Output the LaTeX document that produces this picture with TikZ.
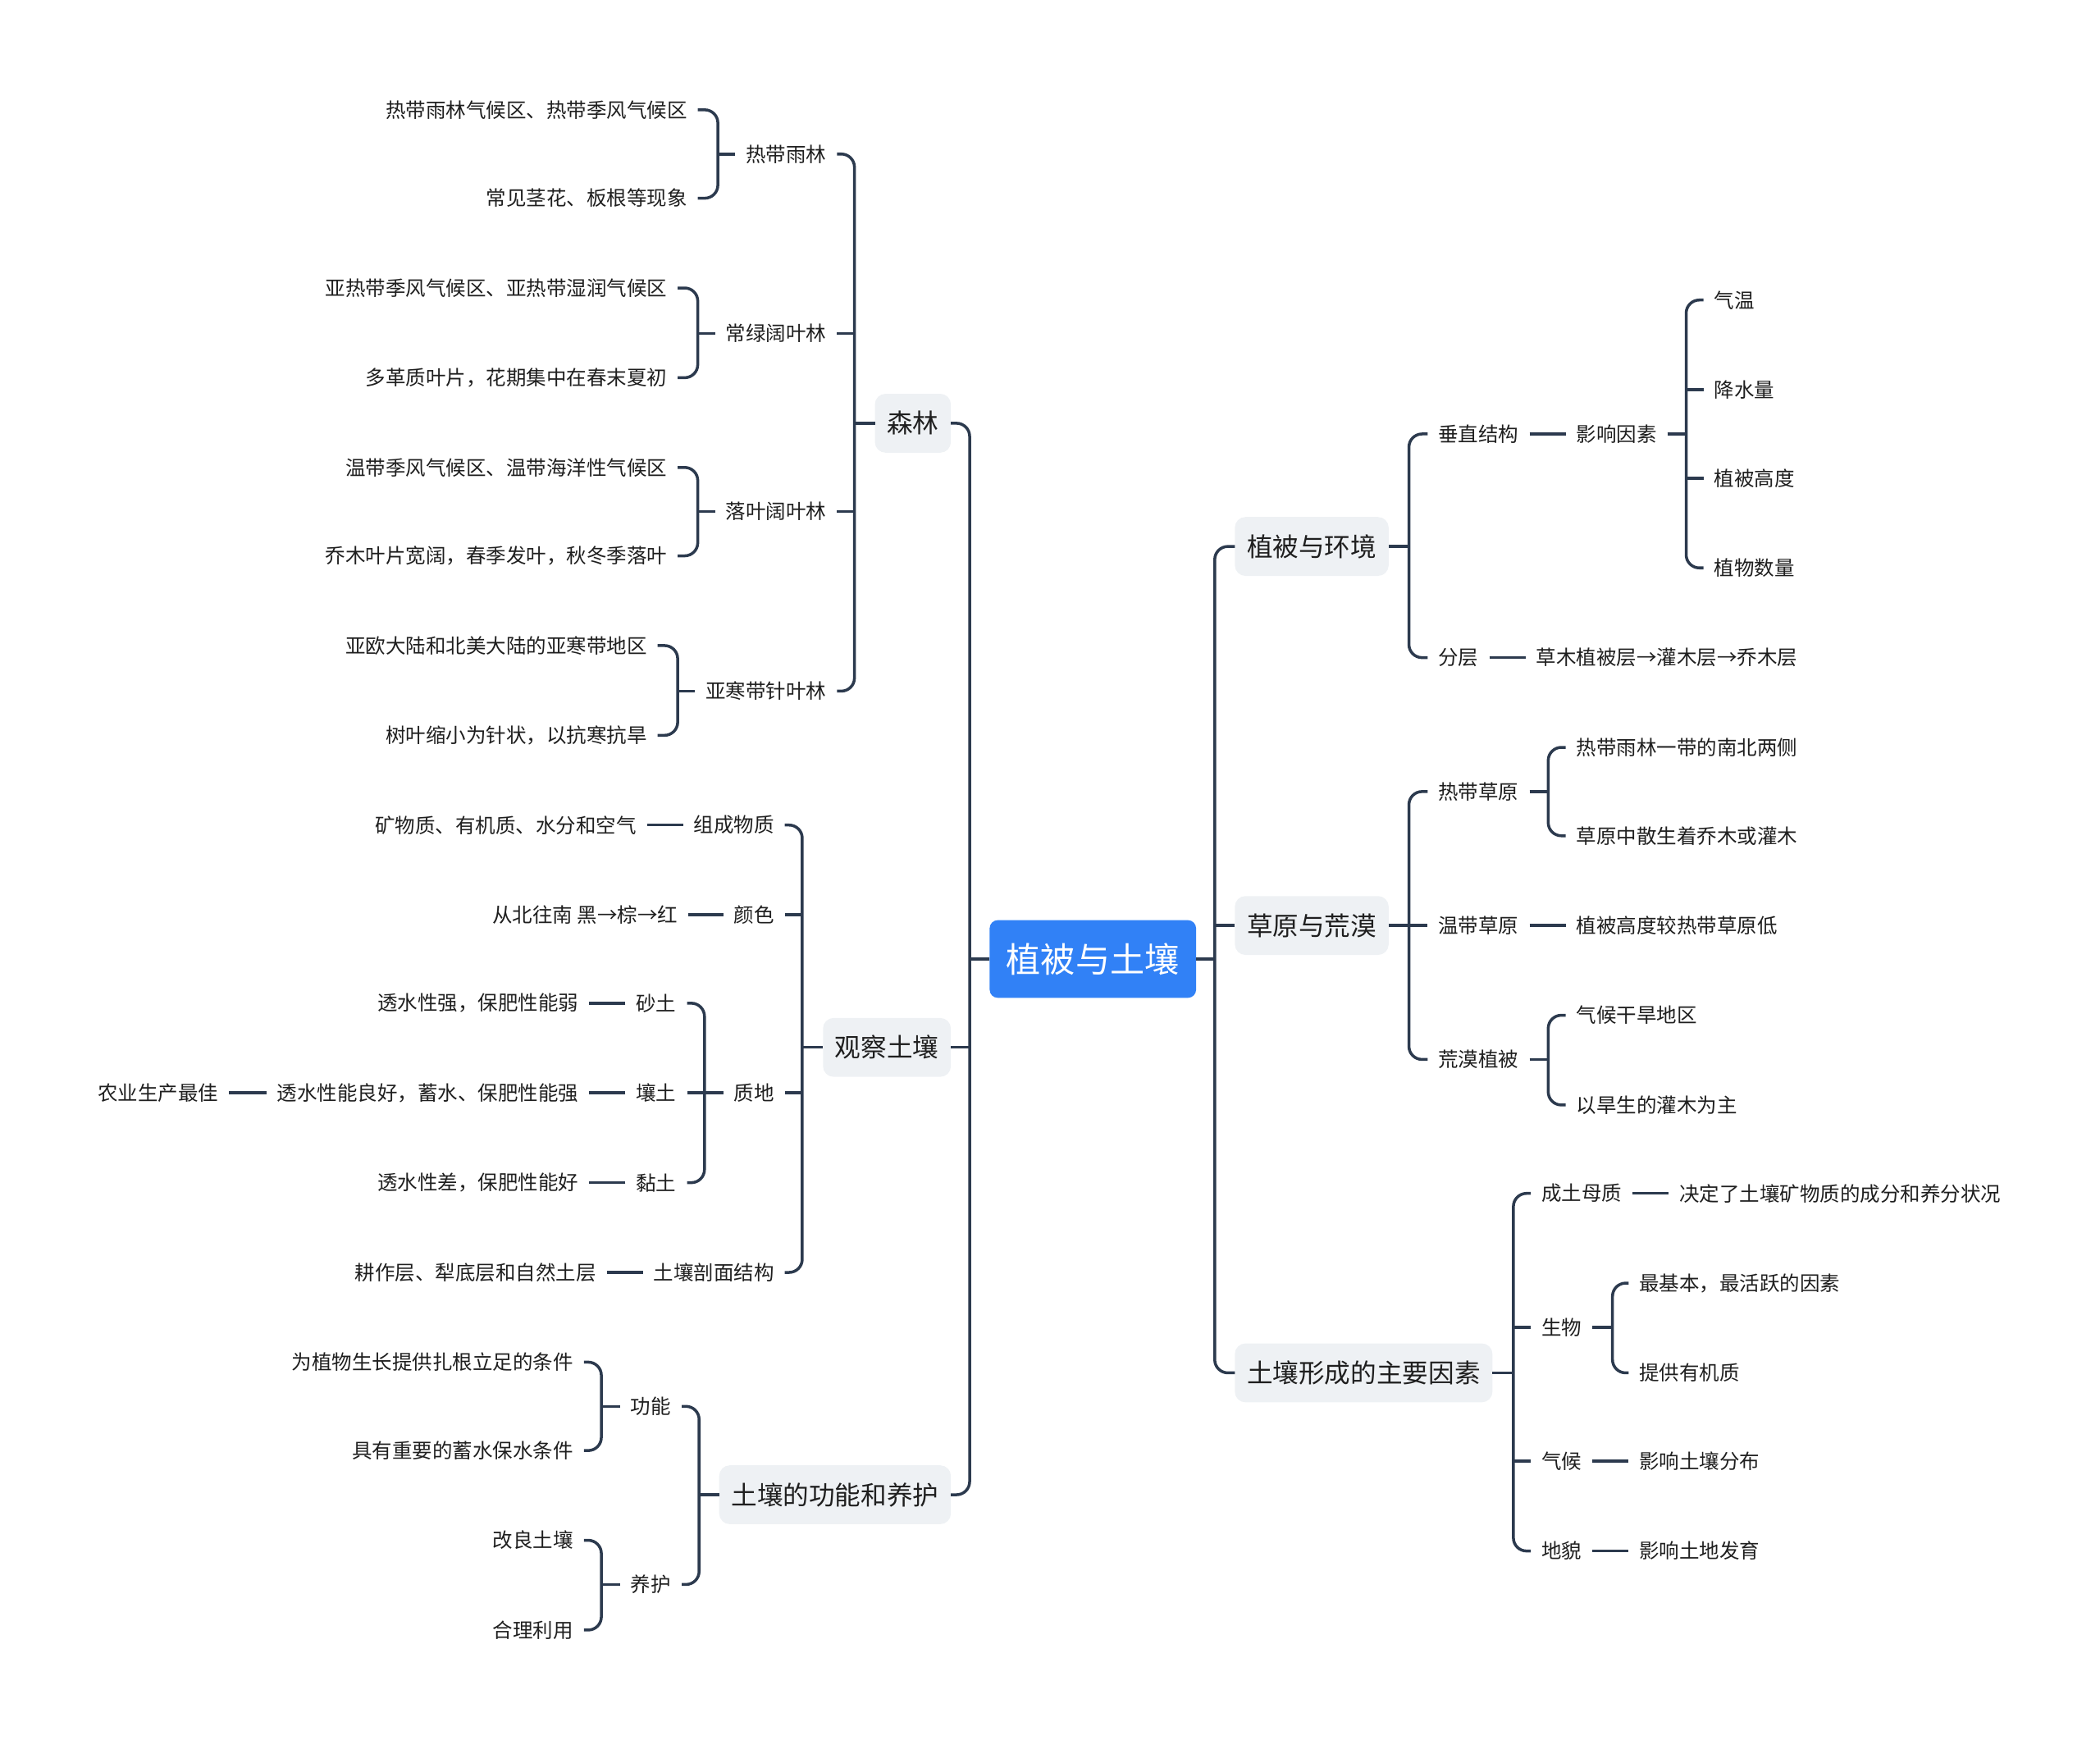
\documentclass[tikz,border=0pt]{standalone}
\usepackage{fontspec}
\setmainfont{Noto Sans CJK SC}
\usetikzlibrary{calc}
\definecolor{linec}{HTML}{2C3A4E}
\definecolor{rootc}{HTML}{3181F6}
\definecolor{boxc}{HTML}{EEF1F4}
\definecolor{txtc}{HTML}{1F1F1F}
\begin{document}
\begin{tikzpicture}[x=0.016327cm,y=-0.016327cm,
 leaf/.style={font=\fontsize{6.97pt}{8pt}\selectfont, text=txtc, inner xsep=0.1306cm, inner ysep=0.05cm, outer sep=0pt},
 lvl/.style={fill=boxc, rounded corners=0.13cm, font=\fontsize{9pt}{11pt}\selectfont, text=txtc, inner xsep=0.147cm, minimum height=0.718cm, outer sep=0pt},
 rootn/.style={fill=rootc, rounded corners=0.1cm, font=\fontsize{12pt}{14pt}\selectfont, text=white, inner xsep=0.204cm, minimum height=0.947cm, outer sep=0pt},
 conn/.style={draw=linec, line width=1pt, rounded corners=0.16cm},
 link/.style={draw=linec, line width=1pt}]
\useasboundingbox (0,0) rectangle (1568,1299);

% root
\node[rootn] (root) at (816,716) {植被与土壤};

% level 1 right
\node[lvl, anchor=west] (R1) at (922,408) {植被与环境};
\node[lvl, anchor=west] (R2) at (922,691) {草原与荒漠};
\node[lvl, anchor=west] (R3) at (922,1025) {土壤形成的主要因素};
% level 1 left
\node[lvl, anchor=east] (L1) at (710,316) {森林};
\node[lvl, anchor=east] (L2) at (710,782) {观察土壤};
\node[lvl, anchor=east] (L3) at (710,1116) {土壤的功能和养护};

% trunks of root
\coordinate (TR) at (907,716);
\coordinate (TL) at (724,716);
\draw[link] (root.east) -- (TR);
\draw[conn] (R1.west) -- (R1.west -| TR) -- (R3.west -| TR) -- (R3.west);
\draw[link] (R2.west -| TR) -- (R2.west);
\draw[link] (root.west) -- (TL);
\draw[conn] (L1.east) -- (L1.east -| TL) -- (L3.east -| TL) -- (L3.east);
\draw[link] (L2.east -| TL) -- (L2.east);

% ===== R1 植被与环境 =====
\node[leaf, anchor=west] (a1) at (1066,324) {垂直结构};
\node[leaf, anchor=west] (a2) at (1066,491) {分层};
\coordinate (tR1) at (1052,408);
\draw[link] (R1.east) -- (tR1);
\draw[conn] (a1.west) -- (a1.west -| tR1) -- (a2.west -| tR1) -- (a2.west);
\node[leaf, anchor=west] (a11) at (1169,324) {影响因素};
\draw[link] (a1.east) -- (a11.west);
\node[leaf, anchor=west] (b1) at (1272,224) {气温};
\node[leaf, anchor=west] (b2) at (1272,291) {降水量};
\node[leaf, anchor=west] (b3) at (1272,357) {植被高度};
\node[leaf, anchor=west] (b4) at (1272,424) {植物数量};
\coordinate (tA11) at (1259,324);
\draw[link] (a11.east) -- (tA11);
\draw[conn] (b1.west) -- (b1.west -| tA11) -- (b4.west -| tA11) -- (b4.west);
\draw[link] (b2.west -| tA11) -- (b2.west);
\draw[link] (b3.west -| tA11) -- (b3.west);
\node[leaf, anchor=west] (a21) at (1139,491) {草木植被层→灌木层→乔木层};
\draw[link] (a2.east) -- (a21.west);

% ===== R2 草原与荒漠 =====
\node[leaf, anchor=west] (c1) at (1066,591) {热带草原};
\node[leaf, anchor=west] (c2) at (1066,691) {温带草原};
\node[leaf, anchor=west] (c3) at (1066,791) {荒漠植被};
\coordinate (tR2) at (1052,691);
\draw[link] (R2.east) -- (tR2);
\draw[conn] (c1.west) -- (c1.west -| tR2) -- (c3.west -| tR2) -- (c3.west);
\draw[link] (c2.west -| tR2) -- (c2.west);
\node[leaf, anchor=west] (c11) at (1169,558) {热带雨林一带的南北两侧};
\node[leaf, anchor=west] (c12) at (1169,624) {草原中散生着乔木或灌木};
\coordinate (tC1) at (1156,591);
\draw[link] (c1.east) -- (tC1);
\draw[conn] (c11.west) -- (c11.west -| tC1) -- (c12.west -| tC1) -- (c12.west);
\node[leaf, anchor=west] (c21) at (1169,691) {植被高度较热带草原低};
\draw[link] (c2.east) -- (c21.west);
\node[leaf, anchor=west] (c31) at (1169,758) {气候干旱地区};
\node[leaf, anchor=west] (c32) at (1169,825) {以旱生的灌木为主};
\coordinate (tC3) at (1156,791);
\draw[link] (c3.east) -- (tC3);
\draw[conn] (c31.west) -- (c31.west -| tC3) -- (c32.west -| tC3) -- (c32.west);

% ===== R3 土壤形成的主要因素 =====
\node[leaf, anchor=west] (d1) at (1143,891) {成土母质};
\node[leaf, anchor=west] (d2) at (1143,991) {生物};
\node[leaf, anchor=west] (d3) at (1143,1091) {气候};
\node[leaf, anchor=west] (d4) at (1143,1158) {地貌};
\coordinate (tR3) at (1130,1025);
\draw[link] (R3.east) -- (tR3);
\draw[conn] (d1.west) -- (d1.west -| tR3) -- (d4.west -| tR3) -- (d4.west);
\draw[link] (d2.west -| tR3) -- (d2.west);
\draw[link] (d3.west -| tR3) -- (d3.west);
\node[leaf, anchor=west] (d11) at (1246,891) {决定了土壤矿物质的成分和养分状况};
\draw[link] (d1.east) -- (d11.west);
\node[leaf, anchor=west] (d21) at (1216,958) {最基本，最活跃的因素};
\node[leaf, anchor=west] (d22) at (1216,1025) {提供有机质};
\coordinate (tD2) at (1204,991);
\draw[link] (d2.east) -- (tD2);
\draw[conn] (d21.west) -- (d21.west -| tD2) -- (d22.west -| tD2) -- (d22.west);
\node[leaf, anchor=west] (d31) at (1216,1091) {影响土壤分布};
\draw[link] (d3.east) -- (d31.west);
\node[leaf, anchor=west] (d41) at (1216,1158) {影响土地发育};
\draw[link] (d4.east) -- (d41.west);

% ===== L1 森林 =====
\node[leaf, anchor=east] (e1) at (625,115) {热带雨林};
\node[leaf, anchor=east] (e2) at (625,249) {常绿阔叶林};
\node[leaf, anchor=east] (e3) at (625,382) {落叶阔叶林};
\node[leaf, anchor=east] (e4) at (625,516) {亚寒带针叶林};
\coordinate (tL1) at (638,316);
\draw[link] (L1.west) -- (tL1);
\draw[conn] (e1.east) -- (e1.east -| tL1) -- (e4.east -| tL1) -- (e4.east);
\draw[link] (e2.east -| tL1) -- (e2.east);
\draw[link] (e3.east -| tL1) -- (e3.east);

\node[leaf, anchor=east] (e11) at (521,82) {热带雨林气候区、热带季风气候区};
\node[leaf, anchor=east] (e12) at (521,148) {常见茎花、板根等现象};
\coordinate (tE1) at (536,115);
\draw[link] (e1.west) -- (tE1);
\draw[conn] (e11.east) -- (e11.east -| tE1) -- (e12.east -| tE1) -- (e12.east);

\node[leaf, anchor=east] (e21) at (506,215) {亚热带季风气候区、亚热带湿润气候区};
\node[leaf, anchor=east] (e22) at (506,282) {多革质叶片，花期集中在春末夏初};
\coordinate (tE2) at (521,249);
\draw[link] (e2.west) -- (tE2);
\draw[conn] (e21.east) -- (e21.east -| tE2) -- (e22.east -| tE2) -- (e22.east);

\node[leaf, anchor=east] (e31) at (506,349) {温带季风气候区、温带海洋性气候区};
\node[leaf, anchor=east] (e32) at (506,415) {乔木叶片宽阔，春季发叶，秋冬季落叶};
\coordinate (tE3) at (521,382);
\draw[link] (e3.west) -- (tE3);
\draw[conn] (e31.east) -- (e31.east -| tE3) -- (e32.east -| tE3) -- (e32.east);

\node[leaf, anchor=east] (e41) at (491,482) {亚欧大陆和北美大陆的亚寒带地区};
\node[leaf, anchor=east] (e42) at (491,549) {树叶缩小为针状，以抗寒抗旱};
\coordinate (tE4) at (506,516);
\draw[link] (e4.west) -- (tE4);
\draw[conn] (e41.east) -- (e41.east -| tE4) -- (e42.east -| tE4) -- (e42.east);

% ===== L2 观察土壤 =====
\node[leaf, anchor=east] (f1) at (586,616) {组成物质};
\node[leaf, anchor=east] (f2) at (586,683) {颜色};
\node[leaf, anchor=east] (f3) at (586,816) {质地};
\node[leaf, anchor=east] (f4) at (586,950) {土壤剖面结构};
\coordinate (tL2) at (599,782);
\draw[link] (L2.west) -- (tL2);
\draw[conn] (f1.east) -- (f1.east -| tL2) -- (f4.east -| tL2) -- (f4.east);
\draw[link] (f2.east -| tL2) -- (f2.east);
\draw[link] (f3.east -| tL2) -- (f3.east);

\node[leaf, anchor=east] (f11) at (483,616) {矿物质、有机质、水分和空气};
\draw[link] (f1.west) -- (f11.east);
\node[leaf, anchor=east] (f21) at (514,683) {从北往南 黑→棕→红};
\draw[link] (f2.west) -- (f21.east);

\node[leaf, anchor=east] (g1) at (513,749) {砂土};
\node[leaf, anchor=east] (g2) at (513,816) {壤土};
\node[leaf, anchor=east] (g3) at (513,883) {黏土};
\coordinate (tF3) at (526,816);
\draw[link] (f3.west) -- (tF3);
\draw[conn] (g1.east) -- (g1.east -| tF3) -- (g3.east -| tF3) -- (g3.east);
\draw[link] (g2.east -| tF3) -- (g2.east);
\node[leaf, anchor=east] (g11) at (440,749) {透水性强，保肥性能弱};
\draw[link] (g1.west) -- (g11.east);
\node[leaf, anchor=east] (g21) at (440,816) {透水性能良好，蓄水、保肥性能强};
\draw[link] (g2.west) -- (g21.east);
\node[leaf, anchor=east] (g211) at (171,816) {农业生产最佳};
\draw[link] (g21.west) -- (g211.east);
\node[leaf, anchor=east] (g31) at (440,883) {透水性差，保肥性能好};
\draw[link] (g3.west) -- (g31.east);

\node[leaf, anchor=east] (f41) at (453,950) {耕作层、犁底层和自然土层};
\draw[link] (f4.west) -- (f41.east);

% ===== L3 土壤的功能和养护 =====
\node[leaf, anchor=east] (h1) at (509,1050) {功能};
\node[leaf, anchor=east] (h2) at (509,1183) {养护};
\coordinate (tL3) at (522,1116);
\draw[link] (L3.west) -- (tL3);
\draw[conn] (h1.east) -- (h1.east -| tL3) -- (h2.east -| tL3) -- (h2.east);

\node[leaf, anchor=east] (h11) at (436,1017) {为植物生长提供扎根立足的条件};
\node[leaf, anchor=east] (h12) at (436,1083) {具有重要的蓄水保水条件};
\coordinate (tH1) at (449,1050);
\draw[link] (h1.west) -- (tH1);
\draw[conn] (h11.east) -- (h11.east -| tH1) -- (h12.east -| tH1) -- (h12.east);

\node[leaf, anchor=east] (h21) at (436,1150) {改良土壤};
\node[leaf, anchor=east] (h22) at (436,1217) {合理利用};
\coordinate (tH2) at (449,1183);
\draw[link] (h2.west) -- (tH2);
\draw[conn] (h21.east) -- (h21.east -| tH2) -- (h22.east -| tH2) -- (h22.east);

\end{tikzpicture}
\end{document}
